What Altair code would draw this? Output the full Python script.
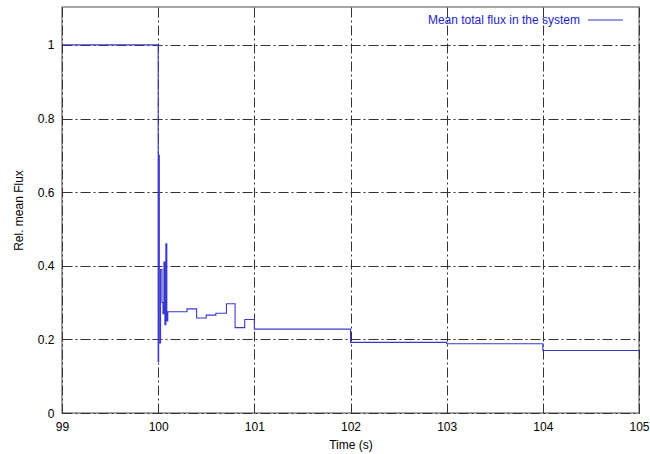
import altair as alt
import pandas as pd

# step data (step-after): time (s), relative mean flux
times = [99.0, 100.0, 100.005, 100.012, 100.025, 100.04, 100.05, 100.06, 100.07, 100.08, 100.09,
         100.1, 100.3, 100.4, 100.5, 100.6, 100.71, 100.8, 100.9, 101.0, 102.0, 103.0, 104.0, 105.0]
flux = [1.0, 0.14, 0.70, 0.19, 0.39, 0.30, 0.27, 0.41, 0.24, 0.46, 0.25,
        0.275, 0.283, 0.258, 0.266, 0.271, 0.297, 0.232, 0.254, 0.228, 0.192, 0.188, 0.170, 0.170]
series_name = ["Mean total flux in the system"]
x_ticks = [99, 100, 101, 102, 103, 104, 105]
y_ticks = [0, 0.2, 0.4, 0.6, 0.8, 1]

df = pd.DataFrame({"t": times, "f": flux})
legend_df = pd.DataFrame({"name": series_name})

LINE = "#3838cc"
FONT = "Liberation Sans"

x_scale = alt.Scale(domain=[99, 105], nice=False, zero=False)
y_scale = alt.Scale(domain=[0, 1.103], nice=False)

line = alt.Chart(df).mark_line(interpolate="step-after", color=LINE, strokeWidth=1.1).encode(
    x=alt.X("t:Q", scale=x_scale, title="Time (s)",
            axis=alt.Axis(values=x_ticks, format="d", grid=True, ticks=False, labelPadding=8,
                          labelFlush=False, labelOverlap=False, titlePadding=7)),
    y=alt.Y("f:Q", scale=y_scale, title="Rel. mean Flux",
            axis=alt.Axis(values=y_ticks, format="~g", grid=True, ticks=False, labelPadding=8,
                          labelFlush=False, labelOverlap=False, titlePadding=12)),
)

legend_text = alt.Chart(legend_df).mark_text(align="right", baseline="middle", color="#1e1ec8",
                                             font=FONT, fontSize=12).encode(
    text="name:N", x=alt.value(518), y=alt.value(13)
)
legend_line = alt.Chart(legend_df).mark_rule(color=LINE, strokeWidth=1.1).encode(
    x=alt.value(526), x2=alt.value(561), y=alt.value(13)
)

chart = alt.layer(line, legend_text, legend_line).properties(
    width=577, height=406,
    padding={"left": 62, "top": 7, "right": 11, "bottom": 41},
    autosize=alt.AutoSizeParams(type="none"),
    background="white",
).configure_view(
    stroke="#888888", strokeWidth=1.5
).configure_axis(
    domain=False,
    gridColor="#333333", gridDash=[10, 3, 2, 3], gridWidth=1, gridOpacity=1,
    labelFont=FONT, labelFontSize=12, labelColor="#000000",
    titleFont=FONT, titleFontSize=12, titleFontWeight="normal", titleColor="#000000",
)

chart.save("out.html", embed_options={"renderer": "svg", "actions": False})
